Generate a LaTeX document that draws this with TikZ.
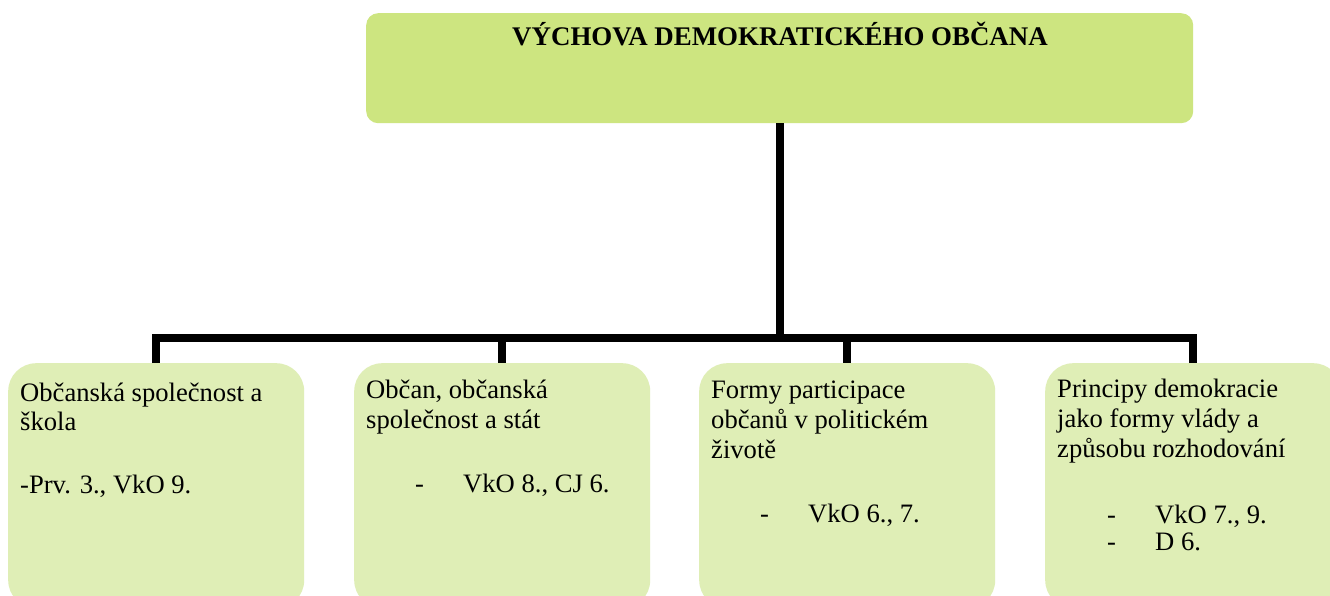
\documentclass[tikz,border=0pt]{standalone}
\usepackage{fontspec}
\setmainfont{Liberation Serif}
\definecolor{topgreen}{RGB}{205,229,128}
\definecolor{boxgreen}{RGB}{223,238,182}
\begin{document}
\begin{tikzpicture}[x=1pt,y=-1pt,
  topbox/.style={fill=topgreen, draw=none, rounded corners=12pt, inner sep=0, anchor=north west, minimum width=827pt, minimum height=110pt},
  subbox/.style={fill=boxgreen, draw=none, rounded corners=28pt, inner sep=0, anchor=north west, minimum width=296pt, minimum height=245pt},
  conn/.style={line width=8pt, draw=black, line join=miter},
  lbl/.style={anchor=base west, inner sep=0, font=\fontsize{26.6}{30}\selectfont},
  ttl/.style={anchor=base, inner sep=0, font=\fontsize{26.9}{30}\selectfont\bfseries},
]
\useasboundingbox (0,0) rectangle (1330,595);
\clip (0,0) rectangle (1330,595);
\fill[white] (0,0) rectangle (1330,595);

\node[topbox] (top) at (366,13) {};
\node[ttl] (title) at (780,45) {VÝCHOVA DEMOKRATICKÉHO OBČANA};

\node[subbox] (b1) at (8,363) {};
\node[subbox] (b2) at (354,363) {};
\node[subbox] (b3) at (699,363) {};
\node[subbox] (b4) at (1045,363) {};

\coordinate (bar) at (780,338);
\draw[conn] (top.south) -- (top.south |- bar);
\draw[conn] (b1.north) -- (b1.north |- bar) -- (b4.north |- bar) -- (b4.north);
\draw[conn] (b2.north |- bar) -- (b2.north);
\draw[conn] (b3.north |- bar) -- (b3.north);

\node[lbl] (t1a) at (20,401) {Občanská společnost a};
\node[lbl] (t1b) at (20,430) {škola};
\node[lbl] (t1c) at (20,493) {-Prv. 3., VkO 9.};

\node[lbl] (t2a) at (366,398) {Občan, občanská};
\node[lbl] (t2b) at (366,428) {společnost a stát};
\node[lbl] (t2d) at (415,492) {-};
\node[lbl] (t2c) at (463,492) {VkO 8., CJ 6.};

\node[lbl] (t3a) at (711,398) {Formy participace};
\node[lbl] (t3b) at (711,428) {občanů v politickém};
\node[lbl] (t3c) at (711,458) {životě};
\node[lbl] (t3e) at (760,522) {-};
\node[lbl] (t3d) at (808,522) {VkO 6., 7.};

\node[lbl] (t4a) at (1057,397) {Principy demokracie};
\node[lbl] (t4b) at (1057,427) {jako formy vlády a};
\node[lbl] (t4c) at (1057,457) {způsobu rozhodování};
\node[lbl] (t4e) at (1107,523) {-};
\node[lbl] (t4d) at (1155,523) {VkO 7., 9.};
\node[lbl] (t4g) at (1107,550) {-};
\node[lbl] (t4f) at (1155,550) {D 6.};
\end{tikzpicture}
\end{document}
